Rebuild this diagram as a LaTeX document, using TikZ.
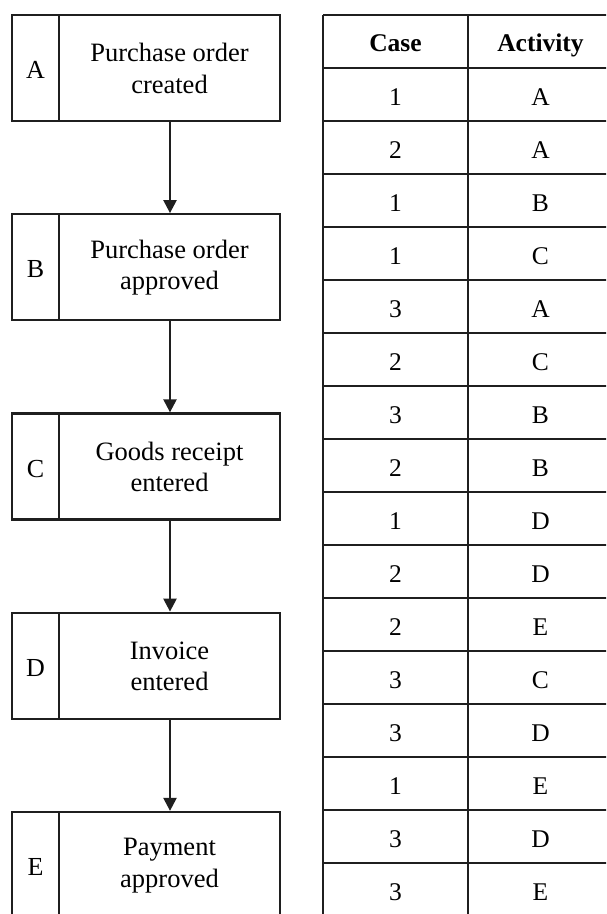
\documentclass[tikz,border=0pt]{standalone}
\usepackage{fontspec}
\setmainfont{Liberation Serif}
\usetikzlibrary{arrows.meta}
\begin{document}
\begin{tikzpicture}[x=1pt,y=-1pt,
  ln/.style={line width=2.3pt,draw=black!88},
  stepbox/.style={ln,rectangle,minimum width=268pt,minimum height=106pt,inner sep=0pt},
  lettertext/.style={font=\fontsize{26}{31.5}\selectfont,inner sep=0pt,anchor=base},
  desctext/.style={font=\fontsize{26.5}{31.5}\selectfont,align=center,inner sep=0pt},
  flow/.style={ln,-{Triangle[length=13pt,width=13pt]}},
  cell/.style={font=\fontsize{25.5}{29}\selectfont,inner sep=0pt,anchor=base},
  headcell/.style={font=\fontsize{25.5}{29}\selectfont\bfseries,inner sep=0pt,anchor=base}]
\useasboundingbox (0,0) rectangle (606,914);
\clip (0,0) rectangle (606,914);
\fill[white] (0,0) rectangle (606,914);

% activity boxes: letter column on the left, description on the right
\foreach \n/\l/\t [count=\i from 0] in {
  A/A/{Purchase order\\created},
  B/B/{Purchase order\\approved},
  C/C/{Goods receipt\\entered},
  D/D/{Invoice\\entered},
  E/E/{Payment\\approved}} {
  \node[stepbox] (box\n) at (146,68+199.25*\i) {};
  \draw[ln] (59,15+199.25*\i) -- (59,121+199.25*\i);
  \node[lettertext] (let\n) at (35.5,78.5+199.25*\i) {\l};
  \node[desctext] (txt\n) at (169.5,68.5+199.25*\i) {\t};
}

% sequence arrows
\draw[flow] (boxA.south -| 170,0) -- (boxB.north -| 170,0);
\draw[flow] (boxB.south -| 170,0) -- (boxC.north -| 170,0);
\draw[flow] (boxC.south -| 170,0) -- (boxD.north -| 170,0);
\draw[flow] (boxD.south -| 170,0) -- (boxE.north -| 170,0);

% event log table
\draw[ln] (323,15) -- (620,15);
\foreach \r in {0,...,16} {
  \draw[ln] (323,68+53*\r) -- (620,68+53*\r);
}
\draw[ln] (323,15) -- (323,930);
\draw[ln] (468,15) -- (468,930);
\node[headcell] (hcase) at (395.5,51.5) {Case};
\node[headcell] (hact) at (540.5,51.5) {Activity};
\foreach \c/\a [count=\r from 0] in {1/A,2/A,1/B,1/C,3/A,2/C,3/B,2/B,1/D,2/D,2/E,3/C,3/D,1/E,3/D,3/E} {
  \node[cell] (case\r) at (395.5,105+53*\r) {\c};
  \node[cell] (act\r) at (540.5,105+53*\r) {\a};
}
\end{tikzpicture}
\end{document}
